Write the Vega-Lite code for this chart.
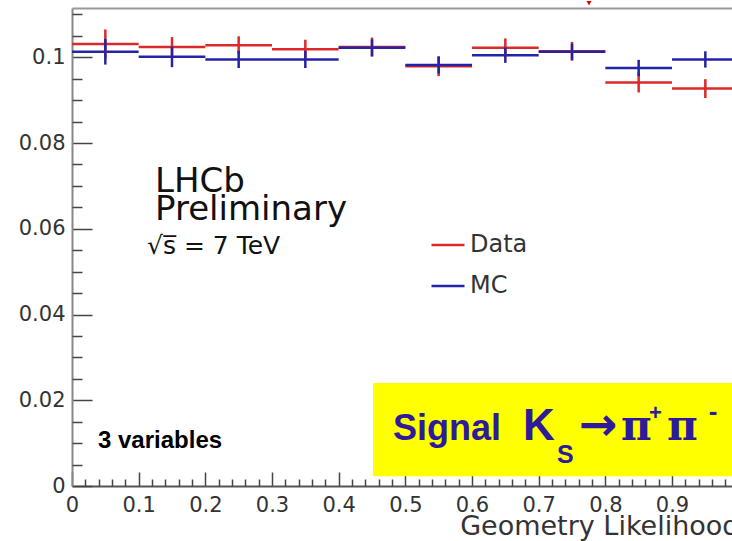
{
  "$schema": "https://vega.github.io/schema/vega-lite/v6.json",
  "width": 660,
  "height": 478,
  "autosize": {"type": "none"},
  "padding": {"left": 72, "top": 8, "right": 0, "bottom": 55},
  "background": "white",
  "config": {
    "view": {"stroke": null},
    "axis": {
      "labelFont": "DejaVu Sans",
      "labelFontSize": 21,
      "labelColor": "#333333",
      "tickColor": "#444444",
      "tickWidth": 1.5,
      "grid": false,
      "labelFlush": false,
      "labelOverlap": false,
      "labelBound": false,
      "zindex": 0
    }
  },
  "datasets": {
    "hist": [
      {"series": "Data", "lo": 0.0, "hi": 0.1, "center": 0.05, "value": 0.1031, "elo": 0.0997, "ehi": 0.1065},
      {"series": "Data", "lo": 0.1, "hi": 0.2, "center": 0.15, "value": 0.1024, "elo": 0.1001, "ehi": 0.1047},
      {"series": "Data", "lo": 0.2, "hi": 0.3, "center": 0.25, "value": 0.1028, "elo": 0.1007, "ehi": 0.1049},
      {"series": "Data", "lo": 0.3, "hi": 0.4, "center": 0.35, "value": 0.1019, "elo": 0.0997, "ehi": 0.1041},
      {"series": "Data", "lo": 0.4, "hi": 0.5, "center": 0.45, "value": 0.1024, "elo": 0.1002, "ehi": 0.1046},
      {"series": "Data", "lo": 0.5, "hi": 0.6, "center": 0.55, "value": 0.0979, "elo": 0.0956, "ehi": 0.1002},
      {"series": "Data", "lo": 0.6, "hi": 0.7, "center": 0.65, "value": 0.1022, "elo": 0.1000, "ehi": 0.1044},
      {"series": "Data", "lo": 0.7, "hi": 0.8, "center": 0.75, "value": 0.1014, "elo": 0.0992, "ehi": 0.1036},
      {"series": "Data", "lo": 0.8, "hi": 0.9, "center": 0.85, "value": 0.0941, "elo": 0.0918, "ehi": 0.0964},
      {"series": "Data", "lo": 0.9, "hi": 1.0, "center": 0.95, "value": 0.0927, "elo": 0.0905, "ehi": 0.0949},
      {"series": "MC", "lo": 0.0, "hi": 0.1, "center": 0.05, "value": 0.1013, "elo": 0.0983, "ehi": 0.1043},
      {"series": "MC", "lo": 0.1, "hi": 0.2, "center": 0.15, "value": 0.1001, "elo": 0.0977, "ehi": 0.1025},
      {"series": "MC", "lo": 0.2, "hi": 0.3, "center": 0.25, "value": 0.0995, "elo": 0.0975, "ehi": 0.1015},
      {"series": "MC", "lo": 0.3, "hi": 0.4, "center": 0.35, "value": 0.0995, "elo": 0.0975, "ehi": 0.1015},
      {"series": "MC", "lo": 0.4, "hi": 0.5, "center": 0.45, "value": 0.1022, "elo": 0.1002, "ehi": 0.1042},
      {"series": "MC", "lo": 0.5, "hi": 0.6, "center": 0.55, "value": 0.0982, "elo": 0.0962, "ehi": 0.1002},
      {"series": "MC", "lo": 0.6, "hi": 0.7, "center": 0.65, "value": 0.1005, "elo": 0.0987, "ehi": 0.1023},
      {"series": "MC", "lo": 0.7, "hi": 0.8, "center": 0.75, "value": 0.1013, "elo": 0.0994, "ehi": 0.1032},
      {"series": "MC", "lo": 0.8, "hi": 0.9, "center": 0.85, "value": 0.0975, "elo": 0.0956, "ehi": 0.0994},
      {"series": "MC", "lo": 0.9, "hi": 1.0, "center": 0.95, "value": 0.0995, "elo": 0.0976, "ehi": 0.1014}
    ]
  },
  "layer": [
    {
      "data": {"name": "hist"},
      "mark": {"type": "rule", "strokeWidth": 2.5},
      "encoding": {
        "x": {
          "field": "lo", "type": "quantitative",
          "scale": {"domain": [0, 0.99], "nice": false, "zero": false},
          "axis": {
            "orient": "bottom",
            "values": [0, 0.1, 0.2, 0.3, 0.4, 0.5, 0.6, 0.7, 0.8, 0.9],
            "format": "~g",
            "tickSize": -14,
            "labelPadding": 22,
            "domainColor": "#555555",
            "domainWidth": 2,
            "title": "Geometry Likelihood",
            "titleFont": "DejaVu Sans",
            "titleFontSize": 27,
            "titleFontWeight": "normal",
            "titleColor": "#333333",
            "titleX": 667,
            "titleY": 48,
            "titleAlign": "right",
            "titleBaseline": "alphabetic"
          }
        },
        "x2": {"field": "hi"},
        "y": {
          "field": "value", "type": "quantitative",
          "scale": {"domain": [0, 0.1115], "nice": false, "zero": false},
          "axis": {
            "orient": "left",
            "values": [0, 0.02, 0.04, 0.06, 0.08, 0.1],
            "format": "~g",
            "tickSize": -20,
            "labelPadding": 27,
            "domainColor": "#888888",
            "domainWidth": 2,
            "title": null
          }
        },
        "color": {
          "field": "series", "type": "nominal",
          "scale": {"domain": ["Data", "MC"], "range": ["#dc2828", "#2323a8"]},
          "legend": {
            "title": null, "orient": "none", "legendX": 358, "legendY": 219,
            "symbolType": "stroke", "symbolSize": 1089, "symbolStrokeWidth": 2.5,
            "labelFont": "DejaVu Sans", "labelFontSize": 24, "labelColor": "#333333",
            "labelOffset": 4, "rowPadding": 11, "padding": 0
          }
        }
      }
    },
    {
      "data": {"name": "hist"},
      "mark": {"type": "rule", "strokeWidth": 2.5},
      "encoding": {
        "x": {
          "field": "center", "type": "quantitative",
          "scale": {"domain": [0, 0.99], "nice": false, "zero": false},
          "axis": {
            "orient": "bottom",
            "values": [0.02, 0.04, 0.06, 0.08, 0.12, 0.14, 0.16, 0.18, 0.22, 0.24, 0.26, 0.28, 0.32, 0.34, 0.36, 0.38, 0.42, 0.44, 0.46, 0.48, 0.52, 0.54, 0.56, 0.58, 0.62, 0.64, 0.66, 0.68, 0.72, 0.74, 0.76, 0.78, 0.82, 0.84, 0.86, 0.88, 0.92, 0.94, 0.96, 0.98],
            "tickSize": -7, "labels": false, "domain": false, "title": null
          }
        },
        "y": {
          "field": "elo", "type": "quantitative",
          "scale": {"domain": [0, 0.1115], "nice": false, "zero": false},
          "axis": {
            "orient": "left",
            "values": [0.005, 0.01, 0.015, 0.025, 0.03, 0.035, 0.045, 0.05, 0.055, 0.065, 0.07, 0.075, 0.085, 0.09, 0.095, 0.105, 0.11],
            "tickSize": -10, "labels": false, "domain": false, "title": null
          }
        },
        "y2": {"field": "ehi"},
        "color": {
          "field": "series", "type": "nominal",
          "scale": {"domain": ["Data", "MC"], "range": ["#dc2828", "#2323a8"]},
          "legend": {
            "title": null, "orient": "none", "legendX": 358, "legendY": 219,
            "symbolType": "stroke", "symbolSize": 1089, "symbolStrokeWidth": 2.5,
            "labelFont": "DejaVu Sans", "labelFontSize": 24, "labelColor": "#333333",
            "labelOffset": 4, "rowPadding": 11, "padding": 0
          }
        }
      }
    },
    {
      "data": {"values": [{}]},
      "mark": {"type": "point", "shape": "triangle-down", "filled": true, "color": "#e00000", "opacity": 1, "size": 25, "clip": false},
      "encoding": {
        "x": {
          "datum": 0.7755, "type": "quantitative",
          "scale": {"domain": [0, 0.99], "nice": false, "zero": false},
          "axis": {"orient": "top", "labels": false, "ticks": false, "title": null, "domainColor": "#999999", "domainWidth": 2}
        },
        "y": {"datum": 0.1126, "type": "quantitative", "scale": {"domain": [0, 0.1115], "nice": false, "zero": false}, "axis": null}
      }
    },
    {
      "data": {"values": [{}]},
      "mark": {"type": "rect", "color": "#ffff00", "clip": false},
      "encoding": {
        "x": {"datum": 0.4515, "type": "quantitative", "scale": {"domain": [0, 0.99], "nice": false, "zero": false}, "axis": null},
        "x2": {"datum": 1.0},
        "y": {"datum": 0.0240, "type": "quantitative", "scale": {"domain": [0, 0.1115], "nice": false, "zero": false}, "axis": null},
        "y2": {"datum": 0.0023}
      }
    },
    {
      "data": {"values": [{}]},
      "mark": {"type": "text", "text": "LHCb", "font": "DejaVu Sans", "fontSize": 34, "align": "left", "baseline": "alphabetic", "color": "#111111"},
      "encoding": {
        "x": {"datum": 0.1245, "type": "quantitative", "scale": {"domain": [0, 0.99], "nice": false, "zero": false}, "axis": null},
        "y": {"datum": 0.0686, "type": "quantitative", "scale": {"domain": [0, 0.1115], "nice": false, "zero": false}, "axis": null}
      }
    },
    {
      "data": {"values": [{}]},
      "mark": {"type": "text", "text": "Preliminary", "font": "DejaVu Sans", "fontSize": 34, "align": "left", "baseline": "alphabetic", "color": "#111111"},
      "encoding": {
        "x": {"datum": 0.1245, "type": "quantitative", "scale": {"domain": [0, 0.99], "nice": false, "zero": false}, "axis": null},
        "y": {"datum": 0.0621, "type": "quantitative", "scale": {"domain": [0, 0.1115], "nice": false, "zero": false}, "axis": null}
      }
    },
    {
      "data": {"values": [{}]},
      "mark": {"type": "text", "text": "√s̅ = 7 TeV", "font": "DejaVu Sans", "fontSize": 25, "align": "left", "baseline": "alphabetic", "color": "#111111"},
      "encoding": {
        "x": {"datum": 0.1125, "type": "quantitative", "scale": {"domain": [0, 0.99], "nice": false, "zero": false}, "axis": null},
        "y": {"datum": 0.0541, "type": "quantitative", "scale": {"domain": [0, 0.1115], "nice": false, "zero": false}, "axis": null}
      }
    },
    {
      "data": {"values": [{}]},
      "mark": {"type": "text", "text": "3 variables", "font": "Liberation Sans", "fontWeight": "bold", "fontSize": 24, "align": "left", "baseline": "alphabetic", "color": "#000000"},
      "encoding": {
        "x": {"datum": 0.039, "type": "quantitative", "scale": {"domain": [0, 0.99], "nice": false, "zero": false}, "axis": null},
        "y": {"datum": 0.0089, "type": "quantitative", "scale": {"domain": [0, 0.1115], "nice": false, "zero": false}, "axis": null}
      }
    },
    {
      "data": {"values": [{}]},
      "mark": {"type": "text", "text": "Signal", "font": "Liberation Sans", "fontWeight": "bold", "fontSize": 36, "align": "left", "baseline": "alphabetic", "color": "#2d1b9b"},
      "encoding": {
        "x": {"datum": 0.4815, "type": "quantitative", "scale": {"domain": [0, 0.99], "nice": false, "zero": false}, "axis": null},
        "y": {"datum": 0.0107, "type": "quantitative", "scale": {"domain": [0, 0.1115], "nice": false, "zero": false}, "axis": null}
      }
    },
    {
      "data": {"values": [{}]},
      "mark": {"type": "text", "text": "K", "font": "Liberation Sans", "fontWeight": "bold", "fontSize": 44, "align": "left", "baseline": "alphabetic", "color": "#2d1b9b"},
      "encoding": {
        "x": {"datum": 0.6765, "type": "quantitative", "scale": {"domain": [0, 0.99], "nice": false, "zero": false}, "axis": null},
        "y": {"datum": 0.0107, "type": "quantitative", "scale": {"domain": [0, 0.1115], "nice": false, "zero": false}, "axis": null}
      }
    },
    {
      "data": {"values": [{}]},
      "mark": {"type": "text", "text": "S", "font": "Liberation Sans", "fontWeight": "bold", "fontSize": 25, "align": "left", "baseline": "alphabetic", "color": "#2d1b9b"},
      "encoding": {
        "x": {"datum": 0.7275, "type": "quantitative", "scale": {"domain": [0, 0.99], "nice": false, "zero": false}, "axis": null},
        "y": {"datum": 0.0054, "type": "quantitative", "scale": {"domain": [0, 0.1115], "nice": false, "zero": false}, "axis": null}
      }
    },
    {
      "data": {"values": [{}]},
      "mark": {"type": "text", "text": "→", "font": "DejaVu Sans", "fontWeight": "bold", "fontSize": 46, "align": "left", "baseline": "alphabetic", "color": "#2d1b9b"},
      "encoding": {
        "x": {"datum": 0.7605, "type": "quantitative", "scale": {"domain": [0, 0.99], "nice": false, "zero": false}, "axis": null},
        "y": {"datum": 0.0107, "type": "quantitative", "scale": {"domain": [0, 0.1115], "nice": false, "zero": false}, "axis": null}
      }
    },
    {
      "data": {"values": [{}]},
      "mark": {"type": "text", "text": "π", "font": "DejaVu Serif", "fontWeight": "bold", "fontSize": 42, "align": "left", "baseline": "alphabetic", "color": "#2d1b9b"},
      "encoding": {
        "x": {"datum": 0.8235, "type": "quantitative", "scale": {"domain": [0, 0.99], "nice": false, "zero": false}, "axis": null},
        "y": {"datum": 0.0107, "type": "quantitative", "scale": {"domain": [0, 0.1115], "nice": false, "zero": false}, "axis": null}
      }
    },
    {
      "data": {"values": [{}]},
      "mark": {"type": "text", "text": "+", "font": "Liberation Sans", "fontWeight": "bold", "fontSize": 22, "align": "left", "baseline": "alphabetic", "color": "#2d1b9b"},
      "encoding": {
        "x": {"datum": 0.8655, "type": "quantitative", "scale": {"domain": [0, 0.99], "nice": false, "zero": false}, "axis": null},
        "y": {"datum": 0.0155, "type": "quantitative", "scale": {"domain": [0, 0.1115], "nice": false, "zero": false}, "axis": null}
      }
    },
    {
      "data": {"values": [{}]},
      "mark": {"type": "text", "text": "π", "font": "DejaVu Serif", "fontWeight": "bold", "fontSize": 42, "align": "left", "baseline": "alphabetic", "color": "#2d1b9b"},
      "encoding": {
        "x": {"datum": 0.8925, "type": "quantitative", "scale": {"domain": [0, 0.99], "nice": false, "zero": false}, "axis": null},
        "y": {"datum": 0.0107, "type": "quantitative", "scale": {"domain": [0, 0.1115], "nice": false, "zero": false}, "axis": null}
      }
    },
    {
      "data": {"values": [{}]},
      "mark": {"type": "text", "text": "-", "font": "Liberation Sans", "fontWeight": "bold", "fontSize": 26, "align": "left", "baseline": "alphabetic", "color": "#2d1b9b"},
      "encoding": {
        "x": {"datum": 0.955, "type": "quantitative", "scale": {"domain": [0, 0.99], "nice": false, "zero": false}, "axis": null},
        "y": {"datum": 0.0155, "type": "quantitative", "scale": {"domain": [0, 0.1115], "nice": false, "zero": false}, "axis": null}
      }
    }
  ],
  "resolve": {"axis": {"x": "independent", "y": "independent"}}
}
